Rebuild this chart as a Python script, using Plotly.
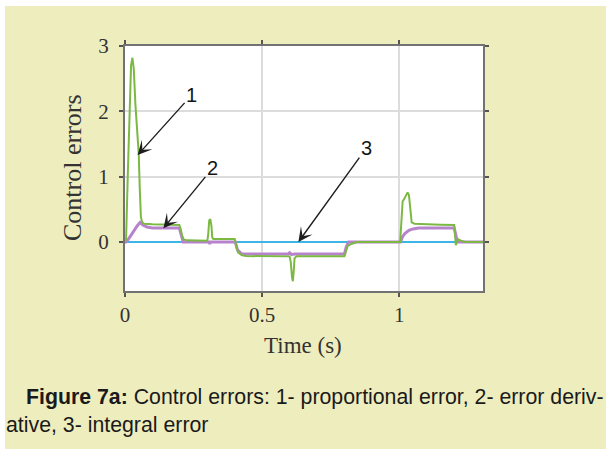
import plotly.graph_objects as go

# ---------------- data ----------------
# 1 - proportional error (green)
t_prop = [0, 0.004, 0.010, 0.016, 0.022, 0.027, 0.032, 0.038, 0.044, 0.050, 0.054, 0.058,
          0.063, 0.07, 0.10, 0.15, 0.198, 0.203, 0.208, 0.214, 0.225, 0.300,
          0.303, 0.307, 0.311, 0.315, 0.318, 0.322, 0.400, 0.405, 0.412, 0.425, 0.44,
          0.600, 0.604, 0.609, 0.612, 0.615, 0.618, 0.625, 0.800, 0.805, 0.812, 0.825, 0.845,
          1.003, 1.007, 1.012, 1.018, 1.024, 1.030, 1.035, 1.040, 1.045, 1.055, 1.10, 1.15,
          1.200, 1.203, 1.206, 1.210, 1.215, 1.225, 1.240, 1.305]
e_prop = [0, 0.05, 1.0, 2.1, 2.7, 2.82, 2.65, 2.1, 1.65, 1.35, 0.8, 0.38,
          0.30, 0.28, 0.27, 0.265, 0.26, 0.2, 0.1, 0.04, 0.025, 0.02,
          0.10, 0.33, 0.35, 0.25, 0.07, 0.045, 0.045, -0.05, -0.16, -0.20, -0.215,
          -0.22, -0.30, -0.55, -0.60, -0.45, -0.25, -0.22, -0.22, -0.15, -0.06, -0.03, 0,
          0, 0.35, 0.62, 0.66, 0.72, 0.76, 0.72, 0.45, 0.30, 0.28, 0.27, 0.265,
          0.26, 0.15, -0.05, 0.0, 0.04, 0.02, 0, 0]

# 2 - error derivative (purple)
t_deriv = [0, 0.004, 0.015, 0.030, 0.045, 0.055, 0.065, 0.08, 0.10, 0.198, 0.205, 0.212,
           0.306, 0.309, 0.312, 0.402, 0.41, 0.425, 0.45, 0.595, 0.600, 0.607, 0.62,
           0.800, 0.806, 0.815, 1.004, 1.012, 1.020, 1.035, 1.05, 1.07, 1.200, 1.206,
           1.212, 1.305]
e_deriv = [0, 0, 0.06, 0.16, 0.25, 0.30, 0.26, 0.23, 0.215, 0.215, 0.10, 0,
           0, -0.03, 0, 0, -0.12, -0.18, -0.185, -0.185, -0.165, -0.19, -0.185,
           -0.185, -0.08, 0, 0, 0.08, 0.13, 0.18, 0.20, 0.215, 0.215, 0.08,
           0, 0]

# 3 - integral error (blue)
t_integ = [0, 0.3, 0.6, 0.9, 1.2, 1.305]
e_integ = [0, 0, 0, 0, 0, 0]

x_tickvals = [0, 0.5, 1]
x_ticktext = ["0", "0.5", "1"]
y_tickvals = [0, 1, 2, 3]
y_ticktext = ["0", "1", "2", "3"]

x_title = "Time (s)"
y_title = "Control errors"
caption_1 = "<b>Figure 7a:</b> Control errors: 1- proportional error, 2- error deriv-"
caption_2 = "ative, 3- integral error"

# ---------------- figure ----------------
W, H = 606, 456
L, R, T, B = 125, 123, 46, 165
PW, PH = W - L - R, H - T - B


def px(xp):
    return (xp - L) / PW


def py(yp):
    return (H - B - yp) / PH


BEIGE = "#EEEDBE"
GREEN = "#7BB943"
PURPLE = "#B783CB"
CYAN = "#3DB5E6"

fig = go.Figure()
fig.add_trace(go.Scatter(x=t_integ, y=e_integ, mode="lines",
                         line=dict(color=CYAN, width=1.8), name="3"))
fig.add_trace(go.Scatter(x=t_deriv, y=e_deriv, mode="lines",
                         line=dict(color=PURPLE, width=3), name="2"))
fig.add_trace(go.Scatter(x=t_prop, y=e_prop, mode="lines",
                         line=dict(color=GREEN, width=2), name="1"))

axis_common = dict(
    showgrid=True, gridcolor="#DCDCDC", gridwidth=1.5,
    showline=True, linecolor="#727272", linewidth=2, mirror="ticks",
    ticks="outside", ticklen=4, tickcolor="#555", tickwidth=1.5,
    zeroline=False,
    tickfont=dict(family="Liberation Serif", size=21, color="#333"),
)

fig.update_xaxes(range=[0, 1.305], tickmode="array", tickvals=x_tickvals,
                 ticktext=x_ticktext, ticklabelstandoff=0, **axis_common)
fig.update_yaxes(range=[-0.75, 3.0], tickmode="array", tickvals=y_tickvals,
                 ticktext=y_ticktext, ticklabelstandoff=6, **axis_common)

annotations = [
    # arrows with labels
    dict(x=0.046, y=1.33, ax=54, ay=-60, text="1"),
    dict(x=0.14, y=0.21, ax=49, ay=-60, text="2"),
    dict(x=0.632, y=0.0, ax=68, ay=-94, text="3"),
]
anns = []
for a in annotations:
    anns.append(dict(xref="x", yref="y", showarrow=True, arrowhead=3,
                     arrowsize=1.7, arrowwidth=1.4, arrowcolor="#1e1e1e",
                     font=dict(family="Liberation Sans", size=20, color="#151515"),
                     **a))

anns += [
    dict(xref="paper", yref="paper", x=px(72), y=py(168), text=y_title,
         textangle=-90, showarrow=False, xanchor="center", yanchor="middle",
         font=dict(family="Liberation Serif", size=26, color="#333")),
    dict(xref="paper", yref="paper", x=px(303), y=py(345), text=x_title,
         showarrow=False, xanchor="center", yanchor="middle",
         font=dict(family="Liberation Serif", size=23, color="#333")),
    dict(xref="paper", yref="paper", x=px(24), y=py(397), text=caption_1,
         showarrow=False, xanchor="left", yanchor="middle",
         font=dict(family="Liberation Sans", size=21.3, color="#1a1a1a")),
    dict(xref="paper", yref="paper", x=px(4), y=py(424.5), text=caption_2,
         showarrow=False, xanchor="left", yanchor="middle",
         font=dict(family="Liberation Sans", size=21.3, color="#1a1a1a")),
]

shapes = [
    # white margins around the beige page
    dict(type="rect", xref="paper", yref="paper", x0=px(0), x1=px(5), y0=py(H), y1=py(0),
         fillcolor="white", line=dict(width=0), layer="above"),
    dict(type="rect", xref="paper", yref="paper", x0=px(0), x1=px(W), y0=py(6), y1=py(0),
         fillcolor="white", line=dict(width=0), layer="above"),
    dict(type="rect", xref="paper", yref="paper", x0=px(0), x1=px(W), y0=py(H), y1=py(449),
         fillcolor="white", line=dict(width=0), layer="above"),
]

fig.update_layout(
    width=W, height=H,
    margin=dict(l=L, r=R, t=T, b=B),
    paper_bgcolor=BEIGE, plot_bgcolor="white",
    showlegend=False,
    annotations=anns,
    shapes=shapes,
)

fig.write_html("out.html", config={"displayModeBar": False},
               post_script="document.body.style.margin='0px';document.body.style.overflow='hidden';")
